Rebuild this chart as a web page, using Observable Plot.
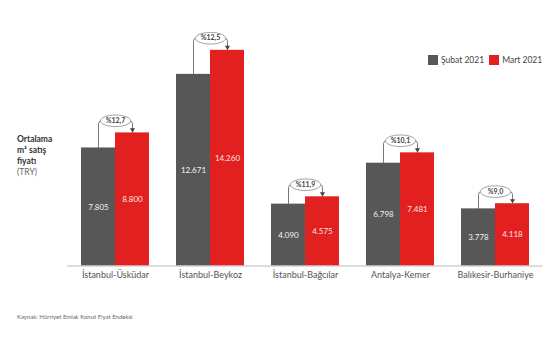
<!DOCTYPE html>
<html>
<head>
<meta charset="utf-8">
<script src="https://cdn.jsdelivr.net/npm/d3@7"></script>
<script src="https://cdn.jsdelivr.net/npm/@observablehq/plot@0.6"></script>
<style>
  html, body { margin: 0; padding: 0; background: #fff; }
  #wrap { position: relative; width: 555px; height: 355px; font-family: Lato, "Open Sans", sans-serif; }
  #wrap svg { position: absolute; left: 0; top: 0; }
  .ytitle { position: absolute; left: 17px; top: 134px; font-size: 8.5px; line-height: 11px; color: #333; }
  .ytitle b { font-weight: 700; }
  .ytitle .u { color: #666; }
  .legend { position: absolute; left: 428px; top: 55px; font-size: 8.5px; color: #444; display: flex; align-items: center; white-space: nowrap; }
  .legend .sw { width: 10px; height: 10px; display: inline-block; margin-right: 3px; }
  .legend .item { display: flex; align-items: center; margin-right: 5px; }
  .source { position: absolute; left: 17px; top: 313px; font-size: 6px; color: #666; white-space: nowrap; }
</style>
</head>
<body>
<div id="wrap"></div>
<script>
const cities = ["İstanbul-Üsküdar", "İstanbul-Beykoz", "İstanbul-Bağcılar", "Antalya-Kemer", "Balıkesir-Burhaniye"];
const series = ["Şubat 2021", "Mart 2021"];
const subat = [7805, 12671, 4090, 6798, 3778];
const mart = [8800, 14260, 4575, 7481, 4118];
const subatLabels = ["7.805", "12.671", "4.090", "6.798", "3.778"];
const martLabels = ["8.800", "14.260", "4.575", "7.481", "4.118"];
const changes = ["%12,7", "%12,5", "%11,9", "%10,1", "%9,0"];
const colors = ["#575757", "#e2201f"];

const rows = [];
cities.forEach((c, i) => {
  rows.push({city: c, series: series[0], value: subat[i], label: subatLabels[i]});
  rows.push({city: c, series: series[1], value: mart[i], label: martLabels[i]});
});
const gap = 800; // bracket height above the March bar, in value units
const ann = cities.map((c, i) => ({city: c, sub: subat[i], mar: mart[i], top: mart[i] + gap, pct: changes[i]}));
const bracket = ann.flatMap(a => [
  {city: a.city, series: series[0], y: a.sub},
  {city: a.city, series: series[0], y: a.top},
  {city: a.city, series: series[1], y: a.top},
  {city: a.city, series: series[1], y: a.mar}
]);

const ellipse = {
  draw(ctx, size) {
    const r = Math.sqrt(size / Math.PI);
    const rx = r * 2.6, ry = r, k = 0.5523;
    ctx.moveTo(rx, 0);
    ctx.bezierCurveTo(rx, k * ry, k * rx, ry, 0, ry);
    ctx.bezierCurveTo(-k * rx, ry, -rx, k * ry, -rx, 0);
    ctx.bezierCurveTo(-rx, -k * ry, -k * rx, -ry, 0, -ry);
    ctx.bezierCurveTo(k * rx, -ry, rx, -k * ry, rx, 0);
    ctx.closePath();
  }
};
const downTri = {
  draw(ctx, size) {
    const r = Math.sqrt(size / Math.PI);
    ctx.moveTo(-r, -r * 0.8);
    ctx.lineTo(r, -r * 0.8);
    ctx.lineTo(0, r * 0.8);
    ctx.closePath();
  }
};
function roundedCorners(context) {
  let pts = [];
  return {
    areaStart() {}, areaEnd() {},
    lineStart() { pts = []; },
    point(x, y) { pts.push([+x, +y]); },
    lineEnd() {
      if (!pts.length) return;
      context.moveTo(pts[0][0], pts[0][1]);
      for (let i = 1; i < pts.length - 1; i++) {
        context.arcTo(pts[i][0], pts[i][1], pts[i + 1][0], pts[i + 1][1], 3);
      }
      const l = pts[pts.length - 1];
      context.lineTo(l[0], l[1]);
    }
  };
}

const chart = Plot.plot({
  width: 555,
  height: 355,
  marginLeft: 67,
  marginRight: 12,
  marginTop: 23.5,
  marginBottom: 89.5,
  style: {fontFamily: "Lato, 'Open Sans', sans-serif", fontSize: "9px", color: "#555", background: "transparent"},
  fx: {domain: cities, paddingInner: 0.286, paddingOuter: 0.143, axis: "bottom", label: null, tickSize: 0, tickPadding: 6},
  x: {domain: series, padding: 0, axis: null},
  y: {domain: [0, 16000], axis: null},
  color: {domain: series, range: colors},
  marks: [
    Plot.barY(rows, {fx: "city", x: "series", y: "value", fill: "series"}),
    Plot.ruleY([0], {stroke: "#bbb", strokeWidth: 1, insetLeft: -13.6, insetRight: -13.6}),
    Plot.text(rows, {fx: "city", x: "series", y: d => d.value / 2, text: "label", fill: d => d.series === series[0] ? "#f4f4f4" : "#fde3e3", fontSize: 8}),
    Plot.line(bracket, {fx: "city", x: "series", y: "y", z: "city", stroke: "#6a6a6a", strokeWidth: 0.9, curve: roundedCorners}),
    Plot.dot(ann, {fx: "city", x: () => series[1], y: "mar", dy: -2.5, symbol: downTri, r: 2.6, fill: "#444", stroke: "none"}),
    Plot.dot(ann, {fx: "city", y: "top", frameAnchor: "middle", symbol: ellipse, r: 5.8, fill: "#fff", stroke: "#8a8a8a", strokeWidth: 0.8}),
    Plot.text(ann, {fx: "city", y: "top", frameAnchor: "middle", text: "pct", fill: "#444", fontSize: 7, fontWeight: "bold"})
  ]
});

const wrap = document.getElementById("wrap");
wrap.appendChild(chart);

const yt = document.createElement("div");
yt.className = "ytitle";
yt.innerHTML = "<b>Ortalama</b><br><b>m² satış</b><br><b>fiyatı</b><br><span class='u'>(TRY)</span>";
wrap.appendChild(yt);

const lg = document.createElement("div");
lg.className = "legend";
series.forEach((s, i) => {
  const it = document.createElement("span");
  it.className = "item";
  const sw = document.createElement("span");
  sw.className = "sw";
  sw.style.background = colors[i];
  it.appendChild(sw);
  it.appendChild(document.createTextNode(s));
  lg.appendChild(it);
});
wrap.appendChild(lg);

const src = document.createElement("div");
src.className = "source";
src.textContent = "Kaynak: Hürriyet Emlak Konut Fiyat Endeksi";
wrap.appendChild(src);
</script>
</body>
</html>
